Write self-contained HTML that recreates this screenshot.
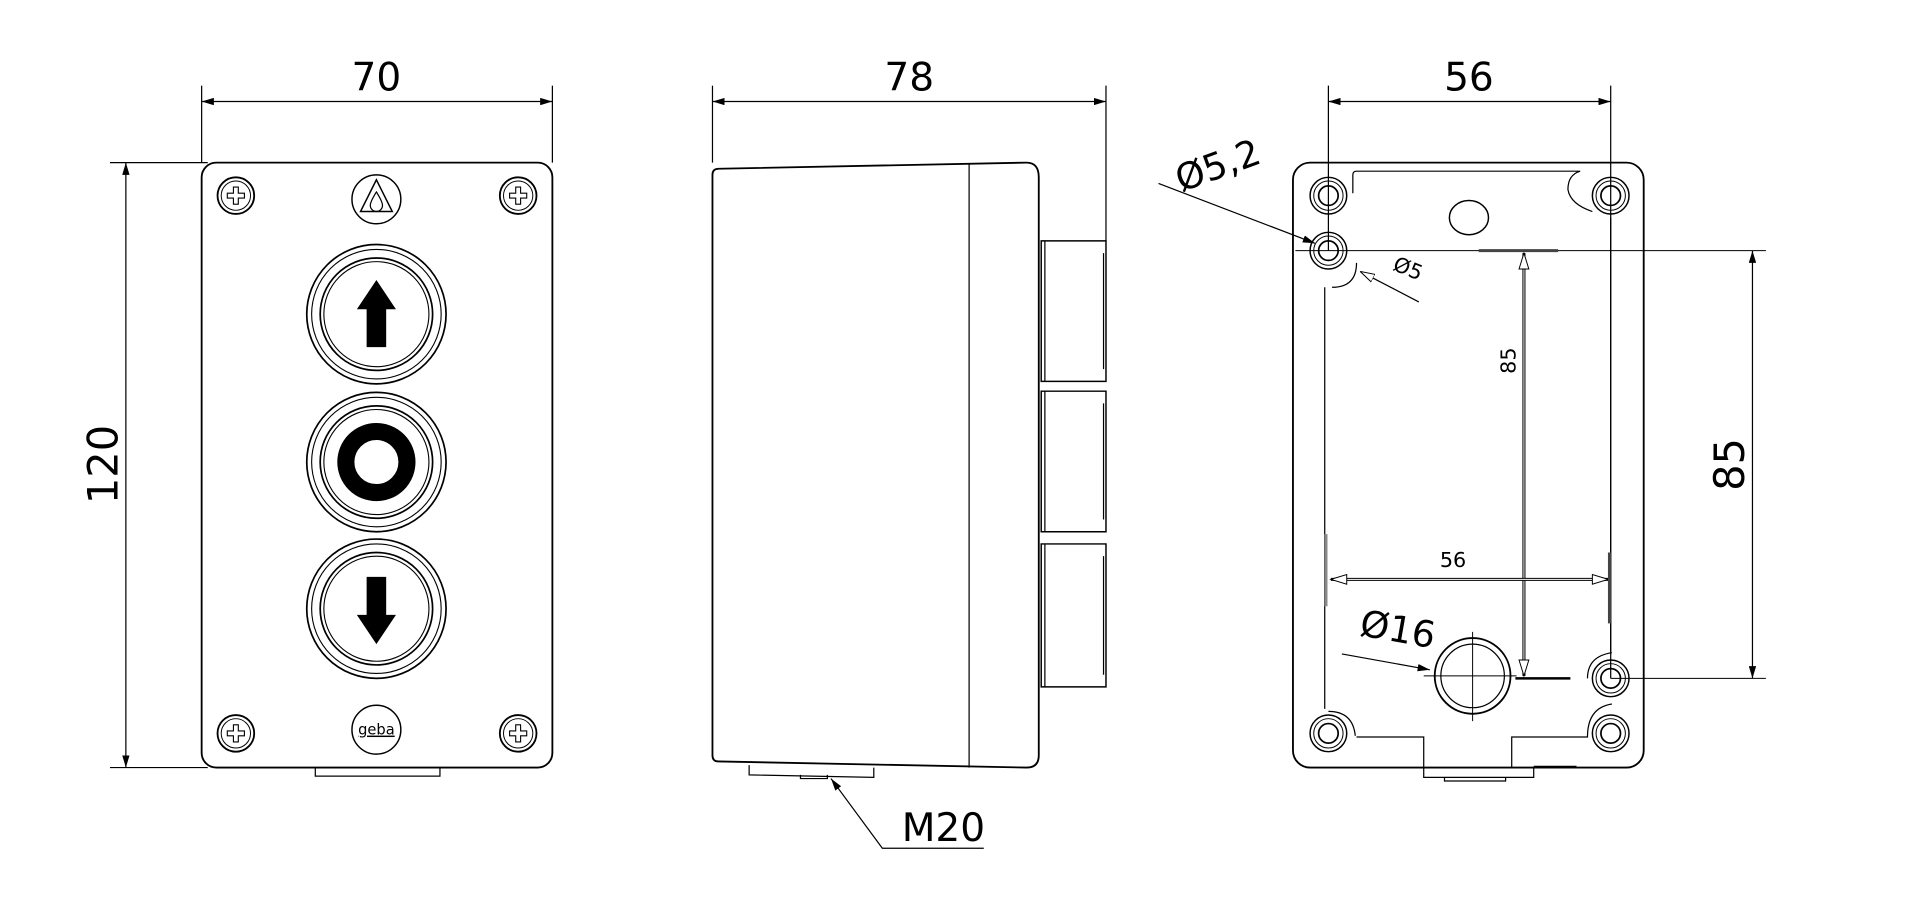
<!DOCTYPE html>
<html><head><meta charset="utf-8"><style>html,body{margin:0;padding:0;background:#fff}svg{display:block}</style></head>
<body>
<svg width="1915" height="907" viewBox="0 0 1567 742" xmlns="http://www.w3.org/2000/svg" font-family="'DejaVu Sans','Liberation Sans',sans-serif">
<defs>
<marker id="a" viewBox="0 0 10 6" refX="10" refY="3" markerWidth="10" markerHeight="6" orient="auto-start-reverse" markerUnits="userSpaceOnUse"><path d="M0,0L10,3L0,6z" fill="#000"/></marker>
<marker id="o" viewBox="0 0 12 8" refX="12" refY="4" markerWidth="12" markerHeight="8" orient="auto-start-reverse" markerUnits="userSpaceOnUse"><path d="M0,0.5L12,4L0,7.5z" fill="#fff" stroke="#000" stroke-width="0.8"/></marker>
<g id="scr"><circle r="15" fill="none" stroke="#000" stroke-width="1.5"/><circle r="12" fill="none" stroke="#000" stroke-width="0.8"/><path d="M-2,-7h4v5h5v4h-5v5h-4v-5h-5v-4h5z" fill="none" stroke="#000" stroke-width="0.9"/></g>
<g id="btn"><circle r="57" fill="none" stroke="#000" stroke-width="1.4"/><circle r="53" fill="none" stroke="#000" stroke-width="0.9"/><circle r="46" fill="none" stroke="#000" stroke-width="1.4"/><circle r="43" fill="none" stroke="#000" stroke-width="0.9"/></g>
<g id="hole"><circle r="15" fill="none" stroke="#000" stroke-width="1.2"/><circle r="12" fill="none" stroke="#000" stroke-width="0.8"/><circle r="8" fill="none" stroke="#000" stroke-width="1.4"/></g>
</defs>
<g stroke="#000" fill="none" stroke-width="1">
<rect x="165" y="133" width="287" height="495" rx="12" stroke-width="1.5"/>
<line x1="165" y1="70" x2="165" y2="133"/><line x1="452" y1="70" x2="452" y2="133"/>
<line x1="165" y1="83" x2="452" y2="83" marker-start="url(#a)" marker-end="url(#a)"/>
<line x1="90" y1="133" x2="170" y2="133"/><line x1="90" y1="628" x2="170" y2="628"/>
<line x1="103" y1="133" x2="103" y2="628" marker-start="url(#a)" marker-end="url(#a)"/>
<use href="#scr" x="193" y="160"/><use href="#scr" x="424" y="160"/><use href="#scr" x="193" y="600"/><use href="#scr" x="424" y="600"/>
<circle cx="308" cy="163" r="20" stroke-width="1.2"/><path d="M308,147L295,173h26z" stroke-width="1.2"/><path d="M308,157q-5,8-5,11a5,5 0 0 0 10,0q0-3-5-11z" stroke-width="1"/>
<circle cx="308" cy="597" r="20" stroke-width="1.2"/>
<use href="#btn" x="308" y="257"/><use href="#btn" x="308" y="378"/><use href="#btn" x="308" y="498"/>
<path d="M300,284V253h-8l16-24l16,24h-8v31z" fill="#000" stroke="none"/>
<path d="M300,472V503h-8l16,24l16-24h-8v-31z" fill="#000" stroke="none"/>
<circle cx="308" cy="378" r="25" stroke-width="14"/>
<rect x="258" y="628" width="102" height="7" stroke-width="1"/>
<path d="M588,138L840,133q10,0 10,12V618q0,10-10,10L588,623q-5,0-5-5V143q0-5 5-5z" stroke-width="1.5"/>
<line x1="793" y1="134" x2="793" y2="628"/>
<path d="M852,197h53v115h-53zM852,320h53v115h-53zM852,445h53v117h-53z" stroke-width="1.2"/>
<path d="M855,197v115M855,320v115M855,445v117M903,207v95M903,330v95M903,455v97"/>
<line x1="583" y1="70" x2="583" y2="133"/><line x1="905" y1="70" x2="905" y2="197"/>
<line x1="583" y1="83" x2="905" y2="83" marker-start="url(#a)" marker-end="url(#a)"/>
<path d="M613,626v8l102,2v-8"/><path d="M655,634v3h22v-3"/>
<polyline points="805,694 722,694 680,637" marker-end="url(#a)"/>
<rect x="1058" y="133" width="287" height="495" rx="14" stroke-width="1.5"/>
<line x1="1087" y1="70" x2="1087" y2="205"/><line x1="1318" y1="70" x2="1318" y2="555"/>
<line x1="1087" y1="83" x2="1318" y2="83" marker-start="url(#a)" marker-end="url(#a)"/>
<use href="#hole" x="1087" y="160"/><use href="#hole" x="1318" y="160"/><use href="#hole" x="1087" y="205"/><use href="#hole" x="1318" y="555"/><use href="#hole" x="1087" y="600"/><use href="#hole" x="1318" y="600"/>
<path d="M1107,158V143q0-3 3-3H1293q-10,3-10,15q2,12 20,18M1318,178v355M1110,215q0,20-20,20M1084,235V580M1087,582q20,0 22,20M1110,603h55v25M1237,628v-25h62q0-24 20-27M1299,555q0-18 20-21"/>
<ellipse cx="1202" cy="178" rx="16" ry="14" stroke-width="1.2"/>
<line x1="1060" y1="205" x2="1445" y2="205" stroke-width="0.8"/>
<line x1="1318" y1="555" x2="1445" y2="555" stroke-width="0.8"/>
<line x1="1434" y1="205" x2="1434" y2="555" marker-start="url(#a)" marker-end="url(#a)"/>
<line x1="1247" y1="207" x2="1247" y2="553" stroke-width="2.5"/><line x1="1247" y1="207" x2="1247" y2="553" stroke="#fff" stroke-width="0.8"/>
<path d="M1247,207l-4,13h8zM1247,553l-4-13h8z" fill="#fff" stroke-width="0.8"/>
<line x1="1089" y1="474" x2="1316" y2="474" stroke-width="2.5"/><line x1="1089" y1="474" x2="1316" y2="474" stroke="#fff" stroke-width="0.8"/>
<path d="M1089,474l13-4v8zM1316,474l-13-4v8z" fill="#fff" stroke-width="0.8"/>
<line x1="1085" y1="437" x2="1085" y2="496" stroke="#888" stroke-width="2.5"/>
<line x1="1317" y1="452" x2="1317" y2="510" stroke="#444" stroke-width="2.5"/>
<line x1="1210" y1="205" x2="1275" y2="205" stroke="#444" stroke-width="2.5"/>
<line x1="1240" y1="555" x2="1285" y2="555" stroke-width="2"/>
<circle cx="1205" cy="553" r="31" stroke-width="1.5"/><circle cx="1205" cy="553" r="26" stroke-width="1"/>
<path d="M1205,517v73M1165,553h76" stroke-width="0.8"/>
<line x1="1098" y1="535" x2="1170" y2="548" marker-end="url(#a)"/>
<line x1="948" y1="150" x2="1076" y2="199" marker-end="url(#a)"/>
<line x1="1161" y1="247" x2="1113" y2="222" marker-end="url(#o)"/>
<path d="M1165,628v8h90v-8zM1182,636v3h50v-3"/><line x1="1255" y1="627" x2="1290" y2="627"/>
</g>
<g fill="#000" font-size="32" text-anchor="middle">
<text x="308" y="74">70</text>
<text x="744" y="74">78</text>
<text x="1202" y="74">56</text>
<text transform="translate(96,380) rotate(-90)" font-size="34">120</text>
<text transform="translate(1427,380) rotate(-90)" font-size="34">85</text>
<text x="772" y="688" font-size="32">M20</text>
<text transform="translate(1000,145) rotate(-20)" font-size="30">Ø5,2</text>
<text transform="translate(1142,525) rotate(10)" font-size="30">Ø16</text>
<text x="1189" y="464" font-size="17">56</text>
<text transform="translate(1240,295) rotate(-90)" font-size="17">85</text>
<text transform="translate(1150,225) rotate(22)" font-size="17">Ø5</text>
<text x="308" y="601" font-size="12" text-decoration="underline">geba</text>
</g>
</svg>
</body></html>
